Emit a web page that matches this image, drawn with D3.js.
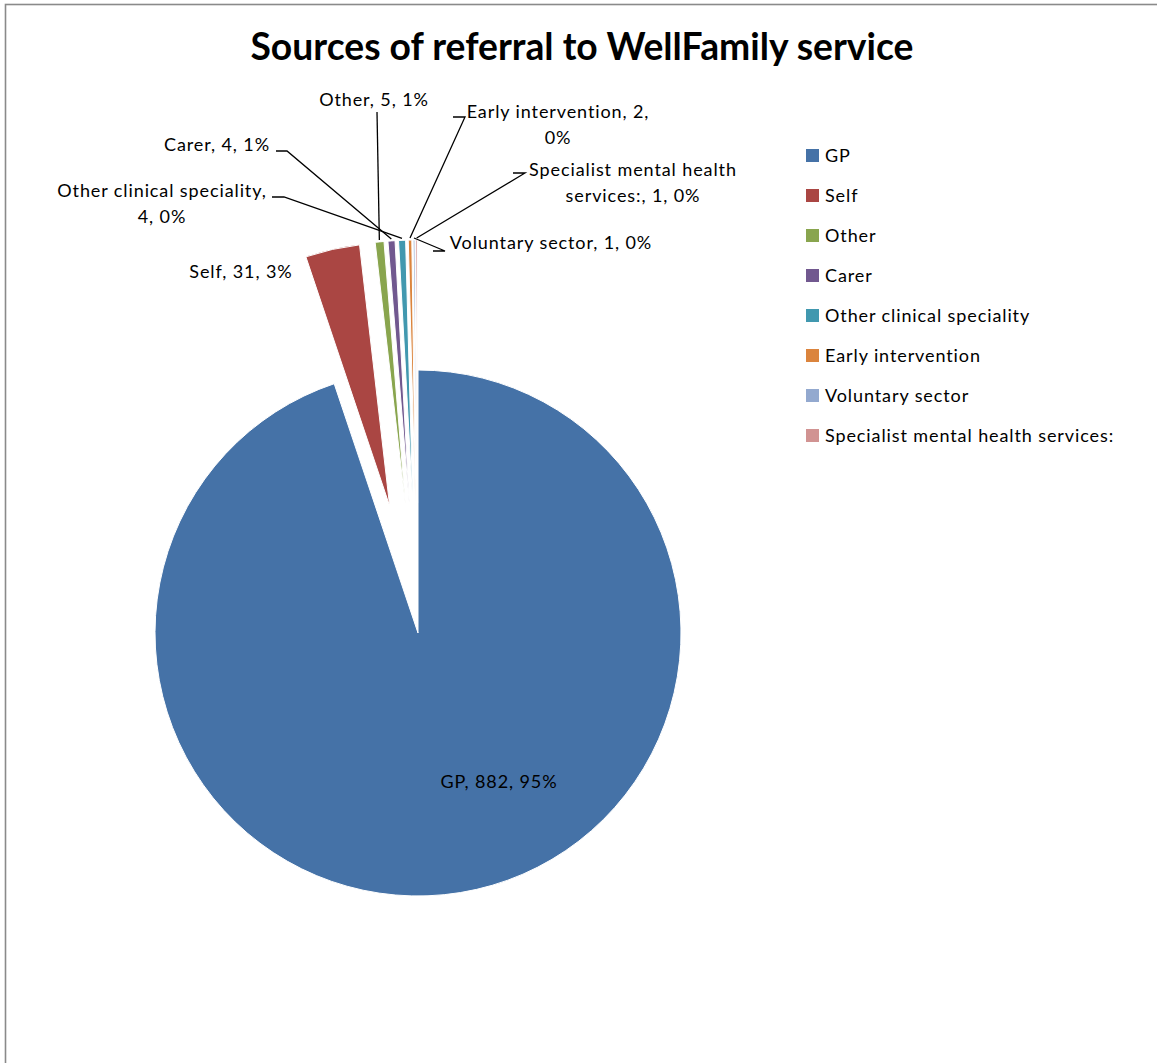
<!DOCTYPE html>
<html>
<head>
<meta charset="utf-8">
<script src="https://cdn.jsdelivr.net/npm/d3@7"></script>
<style>
  body { margin: 0; background: #fff; }
  text { font-family: Lato, "Open Sans", sans-serif; fill: #000; }
  .lbl { font-size: 18px; letter-spacing: 0.9px; }
</style>
</head>
<body>
<svg id="chart" width="1157" height="1063"></svg>
<script>
// Referral sources and counts
const categories = [
  "GP", "Self", "Other", "Carer", "Other clinical speciality",
  "Early intervention", "Voluntary sector", "Specialist mental health services:"
];
const referrals = [882, 31, 5, 4, 4, 2, 1, 1];
const sliceColors = ["#4572A7", "#AA4643", "#89A54E", "#71588F", "#4198AF", "#DB843D", "#93A9CF", "#D19392"];
const chartTitle = "Sources of referral to WellFamily service";

// Whole-number percentages that still add up to 100 (largest remainder)
function roundedPercents(values) {
  const total = d3.sum(values);
  const raw = values.map(v => v / total * 100);
  const out = raw.map(Math.floor);
  const left = 100 - d3.sum(out);
  const order = raw.map((r, i) => [r - Math.floor(r), i]).sort((a, b) => b[0] - a[0] || a[1] - b[1]);
  for (let k = 0; k < left; k++) out[order[k][1]] += 1;
  return out;
}
const percents = roundedPercents(referrals);

// Label placement: anchor point, optional line break and leader elbow points
const labelLayout = {
  "GP": { x: 499, y: 788 },
  "Self": { x: 241, y: 278 },
  "Other": { x: 374, y: 106, leader: [[377, 112]] },
  "Carer": { x: 217, y: 151, leader: [[287, 151], [276, 151]] },
  "Other clinical speciality": { x: 162, y: 197, breakAfter: "speciality,", leader: [[284, 197], [272, 197]] },
  "Early intervention": { x: 558, y: 118, breakAfter: "2,", leader: [[465, 117], [453, 117]] },
  "Voluntary sector": { x: 551, y: 249, leader: [[445, 251], [433, 251]] },
  "Specialist mental health services:": { x: 633, y: 176, breakAfter: "health", leader: [[525, 173], [513, 173]] }
};

const W = 1157, H = 1063;
const svg = d3.select("#chart");

// chart frame
svg.append("rect")
  .attr("x", 5.5).attr("y", 4.5)
  .attr("width", W + 10).attr("height", H + 10)
  .attr("fill", "none").attr("stroke", "#8a8a8a").attr("stroke-width", 1.6);

// title, fitted to its box
const title = svg.append("text")
  .attr("x", 582).attr("y", 60)
  .attr("text-anchor", "middle")
  .style("font-weight", 700)
  .style("font-size", "38px")
  .text(chartTitle);
const titleWidth = 663;
if (title.node().getComputedTextLength() > titleWidth) {
  title.attr("textLength", titleWidth).attr("lengthAdjust", "spacingAndGlyphs");
}

// pie
const cx = 418, cy = 633, radius = 263, explode = 130;
const data = categories.map((name, i) => ({ name, value: referrals[i], pct: percents[i], color: sliceColors[i] }));
const pie = d3.pie().sort(null).value(d => d.value).startAngle(0).endAngle(2 * Math.PI);
const arcs = pie(data);
const arcGen = d3.arc().innerRadius(0).outerRadius(radius);

function shift(a, i) {
  if (i === 0) return [0, 0];
  const m = (a.startAngle + a.endAngle) / 2;
  return [explode * Math.sin(m), -explode * Math.cos(m)];
}

const g = svg.append("g").attr("transform", `translate(${cx},${cy})`);
g.selectAll("path.slice")
  .data(arcs)
  .join("path")
  .attr("class", "slice")
  .attr("transform", (a, i) => { const s = shift(a, i); return `translate(${s[0]},${s[1]})`; })
  .attr("d", arcGen)
  .attr("fill", a => a.data.color)
  .attr("stroke", "#fff")
  .attr("stroke-width", 1);

// leader lines
const line = d3.line();
arcs.forEach((a, i) => {
  const lay = labelLayout[a.data.name];
  if (!lay.leader) return;
  const s = shift(a, i);
  const m = (a.startAngle + a.endAngle) / 2;
  const r = radius + 2;
  const p0 = [cx + s[0] + r * Math.sin(m), cy + s[1] - r * Math.cos(m)];
  svg.append("path")
    .attr("d", line([p0, ...lay.leader]))
    .attr("fill", "none")
    .attr("stroke", "#000")
    .attr("stroke-width", 1.3);
});

// data labels: "name, value, pct%"
const lineGap = 26;
arcs.forEach(a => {
  const d = a.data;
  const lay = labelLayout[d.name];
  const full = `${d.name}, ${d.value}, ${d.pct}%`;
  let lines = [full];
  if (lay.breakAfter) {
    const k = full.indexOf(lay.breakAfter) + lay.breakAfter.length;
    lines = [full.slice(0, k), full.slice(k).trim()];
  }
  const t = svg.append("text")
    .attr("class", "lbl")
    .attr("x", lay.x).attr("y", lay.y)
    .attr("text-anchor", "middle");
  lines.forEach((ln, j) => {
    t.append("tspan").attr("x", lay.x).attr("dy", j === 0 ? 0 : lineGap).text(ln);
  });
});

// legend
const legend = svg.append("g").attr("transform", "translate(806,149)");
const rows = legend.selectAll("g")
  .data(data)
  .join("g")
  .attr("transform", (d, i) => `translate(0,${i * 40})`);
rows.append("rect")
  .attr("width", 13).attr("height", 13)
  .attr("fill", d => d.color);
rows.append("text")
  .attr("class", "lbl")
  .attr("x", 19).attr("y", 13)
  .text(d => d.name);
</script>
</body>
</html>
